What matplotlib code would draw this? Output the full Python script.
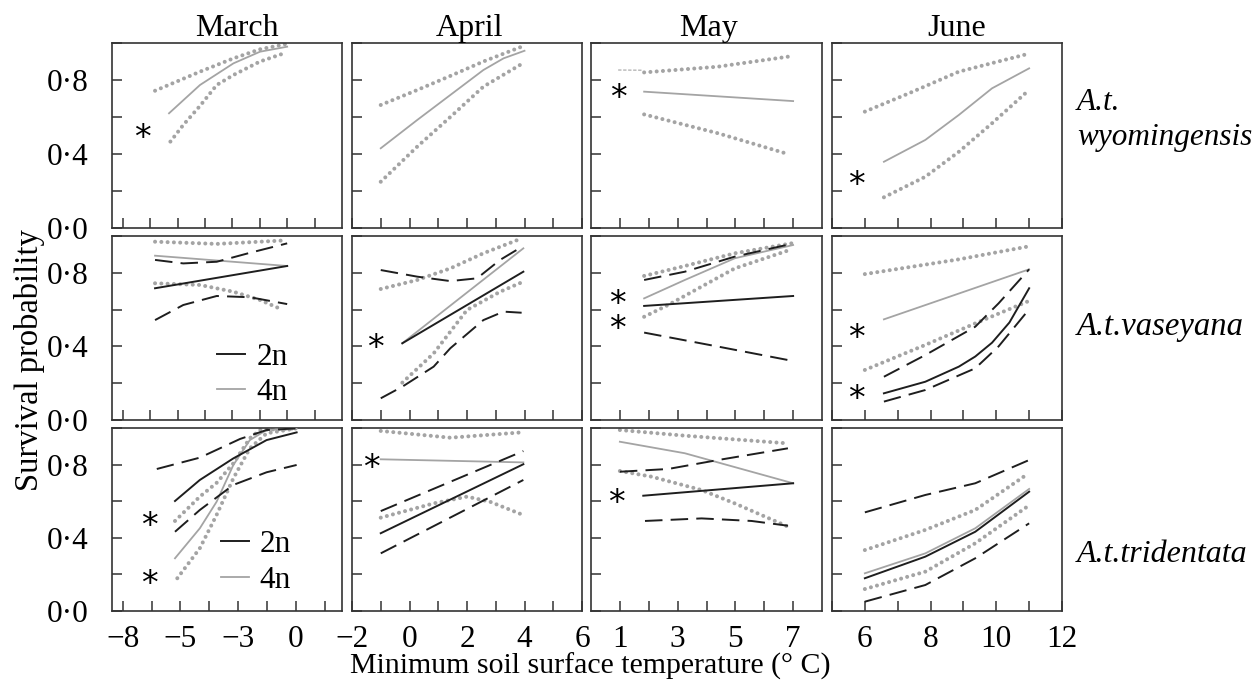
import matplotlib
matplotlib.use("Agg")
import matplotlib.pyplot as plt
from matplotlib.lines import Line2D

plt.rcParams['font.family'] = ['Liberation Serif', 'DejaVu Serif']

# ---------------- data ----------------
months = ["March", "April", "May", "June"]
taxa = ["A.t.\nwyomingensis", "A.t.vaseyana", "A.t.tridentata"]
ytick_vals = [0.0, 0.2, 0.4, 0.6, 0.8, 1.0]
ytick_text = ["0·0", "", "0·4", "", "0·8", ""]

# x ticks per column (March is on a tick-index axis with the printed labels)
mar_ticks = [0, 1, 2, 3, 4, 5, 6, 7]
mar_labels = ["−8", "", "−5", "", "−3", "", "0", ""]
apr_ticks = [-2, -1, 0, 1, 2, 3, 4, 5, 6]
apr_labels = ["−2", "", "0", "", "2", "", "4", "", "6"]
may_ticks = [1, 2, 3, 4, 5, 6, 7]
may_labels = ["1", "", "3", "", "5", "", "7"]
jun_ticks = [5, 6, 7, 8, 9, 10, 11, 12]
jun_labels = ["", "6", "", "8", "", "10", "", "12"]

# ---- row 1: A.t. wyomingensis (4n only) ----
mar_wy_4n = [(1.69, 0.62), (2.82, 0.773), (4.04, 0.89), (5.01, 0.953), (6.0, 0.98)]
mar_wy_4n_hi = [(1.18, 0.742), (2.82, 0.845), (4.04, 0.917), (5.01, 0.966), (5.92, 0.993)]
mar_wy_4n_lo = [(1.74, 0.467), (2.21, 0.557), (2.82, 0.66), (3.43, 0.773), (4.04, 0.827), (5.01, 0.9), (5.8, 0.94)]

apr_wy_4n = [(-1, 0.431), (0.27, 0.584), (1.42, 0.719), (2.57, 0.854), (3.27, 0.917), (4.0, 0.958)]
apr_wy_4n_hi = [(-1, 0.665), (0.27, 0.746), (1.42, 0.822), (2.57, 0.9), (3.9, 0.98)]
apr_wy_4n_lo = [(-1, 0.25), (0.27, 0.44), (1.42, 0.60), (2.57, 0.764), (3.84, 0.881)]

may_wy_4n = [(1.84, 0.737), (7.0, 0.686)]
may_wy_4n_hi = [(1.84, 0.841), (4.4, 0.872), (6.82, 0.926)]
may_wy_4n_lo = [(1.84, 0.614), (4.4, 0.512), (6.82, 0.40)]
may_wy_stub = [(0.94, 0.854), (1.75, 0.853)]

jun_wy_4n = [(6.58, 0.358), (7.84, 0.476), (8.86, 0.611), (9.87, 0.755), (11.0, 0.863)]
jun_wy_4n_hi = [(6.0, 0.629), (7.34, 0.728), (8.86, 0.845), (10.94, 0.94)]
jun_wy_4n_lo = [(6.58, 0.166), (7.84, 0.277), (8.86, 0.412), (9.87, 0.566), (10.94, 0.737)]

# ---- row 2: A.t. vaseyana ----
mar_va_2n = [(1.18, 0.716), (6.0, 0.837)]
mar_va_2n_hi = [(1.18, 0.870), (2.21, 0.851), (3.43, 0.860), (4.65, 0.909), (6.0, 0.960)]
mar_va_2n_lo = [(1.18, 0.543), (2.21, 0.625), (3.43, 0.674), (4.65, 0.667), (6.0, 0.630)]
mar_va_4n = [(1.18, 0.893), (6.0, 0.837)]
mar_va_4n_hi = [(1.18, 0.969), (3.43, 0.957), (5.8, 0.975)]
mar_va_4n_lo = [(1.18, 0.743), (2.82, 0.734), (4.04, 0.697), (5.01, 0.652), (5.8, 0.601)]

apr_va_2n = [(-0.25, 0.417), (3.96, 0.806)]
apr_va_2n_hi = [(-1, 0.815), (0.27, 0.779), (1.42, 0.755), (2.35, 0.770), (3.15, 0.870), (3.96, 0.946)]
apr_va_2n_lo = [(-1, 0.118), (-0.25, 0.181), (0.84, 0.29), (1.42, 0.39), (2.57, 0.543), (3.27, 0.589), (3.9, 0.583)]
apr_va_4n = [(-0.25, 0.417), (3.96, 0.933)]
apr_va_4n_hi = [(-1, 0.712), (0.27, 0.761), (1.42, 0.824), (2.57, 0.906), (3.9, 0.987)]
apr_va_4n_lo = [(-0.25, 0.203), (0.84, 0.362), (2.0, 0.598), (3.15, 0.697), (3.96, 0.752)]

may_va_2n = [(1.84, 0.62), (7.0, 0.674)]
may_va_2n_hi = [(1.84, 0.761), (3.25, 0.806), (4.98, 0.888), (6.94, 0.957)]
may_va_2n_lo = [(1.84, 0.475), (4.4, 0.399), (6.82, 0.326)]
may_va_4n = [(1.84, 0.661), (3.25, 0.761), (4.98, 0.879), (7.0, 0.951)]
may_va_4n_hi = [(1.84, 0.783), (3.25, 0.837), (4.98, 0.906), (6.94, 0.960)]
may_va_4n_lo = [(1.84, 0.561), (2.67, 0.625), (3.83, 0.725), (4.98, 0.824), (6.88, 0.924)]

jun_va_2n = [(6.58, 0.145), (7.84, 0.208), (8.86, 0.29), (9.36, 0.345), (9.87, 0.42), (10.4, 0.53), (11.0, 0.716)]
jun_va_2n_hi = [(6.58, 0.235), (7.84, 0.353), (9.36, 0.507), (10.07, 0.634), (11.0, 0.819)]
jun_va_2n_lo = [(6.58, 0.10), (7.84, 0.163), (9.36, 0.281), (10.07, 0.40), (11.0, 0.602)]
jun_va_4n = [(6.58, 0.547), (11.0, 0.819)]
jun_va_4n_hi = [(6.0, 0.793), (8.86, 0.873), (10.94, 0.942)]
jun_va_4n_lo = [(6.0, 0.272), (7.84, 0.408), (9.36, 0.525), (10.94, 0.643)]

# ---- row 3: A.t. tridentata ----
mar_tr_2n = [(1.81, 0.601), (2.67, 0.716), (3.83, 0.834), (4.98, 0.934), (6.02, 0.976)]
mar_tr_2n_hi = [(1.18, 0.776), (2.67, 0.838), (4.06, 0.94), (4.98, 0.989), (6.02, 0.998)]
mar_tr_2n_lo = [(1.81, 0.433), (2.67, 0.552), (3.83, 0.689), (4.98, 0.758), (6.02, 0.798)]
mar_tr_4n = [(1.81, 0.288), (2.67, 0.452), (3.25, 0.597), (3.83, 0.798), (4.40, 0.934), (4.98, 0.989), (6.02, 0.998)]
mar_tr_4n_hi = [(1.81, 0.492), (2.67, 0.625), (3.25, 0.70), (3.83, 0.807), (4.40, 0.944), (4.75, 0.989), (6.02, 0.998)]
mar_tr_4n_lo = [(1.89, 0.179), (2.67, 0.343), (3.25, 0.525), (3.83, 0.725), (4.40, 0.889), (4.98, 0.971), (6.02, 0.998)]

apr_tr_2n = [(-1, 0.425), (3.96, 0.802)]
apr_tr_2n_hi = [(-1, 0.546), (3.96, 0.874)]
apr_tr_2n_lo = [(-1, 0.315), (3.96, 0.716)]
apr_tr_4n = [(-1, 0.829), (3.96, 0.812)]
apr_tr_4n_hi = [(-1, 0.984), (1.42, 0.947), (3.9, 0.976)]
apr_tr_4n_lo = [(-1, 0.51), (0.84, 0.588), (2.0, 0.625), (2.8, 0.597), (3.9, 0.528)]

may_tr_2n = [(1.81, 0.63), (7.0, 0.698)]
may_tr_2n_hi = [(1.0, 0.761), (2.67, 0.776), (4.4, 0.825), (6.82, 0.889)]
may_tr_2n_lo = [(1.87, 0.492), (3.83, 0.506), (5.56, 0.492), (6.82, 0.466)]
may_tr_4n = [(1.0, 0.925), (3.25, 0.862), (7.0, 0.698)]
may_tr_4n_hi = [(1.0, 0.989), (3.25, 0.958), (6.82, 0.916)]
may_tr_4n_lo = [(1.0, 0.765), (2.1, 0.734), (3.83, 0.661), (4.98, 0.588), (6.82, 0.461)]

jun_tr_2n = [(6.0, 0.179), (7.84, 0.297), (9.36, 0.433), (11.0, 0.652)]
jun_tr_2n_hi = [(6.0, 0.539), (7.84, 0.634), (9.36, 0.698), (11.0, 0.825)]
jun_tr_2n_lo = [(6.0, 0.051), (7.84, 0.142), (9.36, 0.288), (11.0, 0.479)]
jun_tr_4n = [(6.0, 0.206), (7.84, 0.315), (9.36, 0.452), (11.0, 0.667)]
jun_tr_4n_hi = [(6.0, 0.333), (7.84, 0.443), (9.36, 0.552), (10.94, 0.747)]
jun_tr_4n_lo = [(6.0, 0.120), (7.84, 0.215), (9.36, 0.37), (10.94, 0.57)]

# significance asterisks: (axes-fraction x, y, text)
stars = {
    (0, 0): [(0.133, 0.521, "*")],
    (0, 2): [(0.118, 0.737, "*")],
    (0, 3): [(0.107, 0.269, "*")],
    (1, 1): [(0.100, 0.426, "*")],
    (1, 2): [(0.116, 0.530, "*\n*")],
    (1, 3): [(0.107, 0.480, "*"), (0.107, 0.148, "*")],
    (2, 0): [(0.162, 0.503, "*"), (0.162, 0.184, "*")],
    (2, 1): [(0.086, 0.820, "*")],
    (2, 2): [(0.111, 0.625, "*")],
}

# ---------------- styles / layout ----------------
BLACK = "#1e1e1e"
GREY = "#a4a4a4"
styles = {
    "2n": dict(color=BLACK, lw=1.4, ls="-", zorder=4),
    "2n_ci": dict(color=BLACK, lw=1.4, ls=(0, (9, 4.2)), zorder=4),
    "4n": dict(color=GREY, lw=1.3, ls="-", zorder=3),
    "4n_ci": dict(color=GREY, lw=2.9, ls=(0, (0.01, 1.55)), dash_capstyle="round", zorder=2),
    "stub": dict(color=GREY, lw=0.8, ls=(0, (3, 1.5)), zorder=2),
}

panels = {
    (0, 0): [("4n_ci", mar_wy_4n_hi), ("4n_ci", mar_wy_4n_lo), ("4n", mar_wy_4n)],
    (0, 1): [("4n_ci", apr_wy_4n_hi), ("4n_ci", apr_wy_4n_lo), ("4n", apr_wy_4n)],
    (0, 2): [("4n_ci", may_wy_4n_hi), ("4n_ci", may_wy_4n_lo), ("4n", may_wy_4n), ("stub", may_wy_stub)],
    (0, 3): [("4n_ci", jun_wy_4n_hi), ("4n_ci", jun_wy_4n_lo), ("4n", jun_wy_4n)],
    (1, 0): [("4n_ci", mar_va_4n_hi), ("4n_ci", mar_va_4n_lo), ("4n", mar_va_4n),
             ("2n_ci", mar_va_2n_hi), ("2n_ci", mar_va_2n_lo), ("2n", mar_va_2n)],
    (1, 1): [("4n_ci", apr_va_4n_hi), ("4n_ci", apr_va_4n_lo), ("4n", apr_va_4n),
             ("2n_ci", apr_va_2n_hi), ("2n_ci", apr_va_2n_lo), ("2n", apr_va_2n)],
    (1, 2): [("4n_ci", may_va_4n_hi), ("4n_ci", may_va_4n_lo), ("4n", may_va_4n),
             ("2n_ci", may_va_2n_hi), ("2n_ci", may_va_2n_lo), ("2n", may_va_2n)],
    (1, 3): [("4n_ci", jun_va_4n_hi), ("4n_ci", jun_va_4n_lo), ("4n", jun_va_4n),
             ("2n_ci", jun_va_2n_hi), ("2n_ci", jun_va_2n_lo), ("2n", jun_va_2n)],
    (2, 0): [("4n_ci", mar_tr_4n_hi), ("4n_ci", mar_tr_4n_lo), ("4n", mar_tr_4n),
             ("2n_ci", mar_tr_2n_hi), ("2n_ci", mar_tr_2n_lo), ("2n", mar_tr_2n)],
    (2, 1): [("4n_ci", apr_tr_4n_hi), ("4n_ci", apr_tr_4n_lo), ("4n", apr_tr_4n),
             ("2n_ci", apr_tr_2n_hi), ("2n_ci", apr_tr_2n_lo), ("2n", apr_tr_2n)],
    (2, 2): [("4n_ci", may_tr_4n_hi), ("4n_ci", may_tr_4n_lo), ("4n", may_tr_4n),
             ("2n_ci", may_tr_2n_hi), ("2n_ci", may_tr_2n_lo), ("2n", may_tr_2n)],
    (2, 3): [("4n_ci", jun_tr_4n_hi), ("4n_ci", jun_tr_4n_lo), ("4n", jun_tr_4n),
             ("2n_ci", jun_tr_2n_hi), ("2n_ci", jun_tr_2n_lo), ("2n", jun_tr_2n)],
}

W, H = 1252, 685
col_left = [112, 352, 591, 832]
col_width = [230, 230, 231, 230]
row_top = [43, 236, 428]
row_bottom = [228, 420, 611]
title_x = [0.543, 0.513, 0.51, 0.54]

col_ticks = [(mar_ticks, mar_labels), (apr_ticks, apr_labels),
             (may_ticks, may_labels), (jun_ticks, jun_labels)]
col_xlim = [(-0.39, 8.0), (-1.97, 6.0), (0.0, 8.0), (5.02, 12.0)]
row3_mar_xlim = (-0.37, 7.59)

TICK_FS = 22.5
fig = plt.figure(figsize=(W / 100, H / 100), dpi=100)

axes = {}
for r in range(3):
    for c in range(4):
        l = col_left[c] / W
        b = 1 - row_bottom[r] / H
        w = col_width[c] / W
        h = (row_bottom[r] - row_top[r]) / H
        ax = fig.add_axes([l, b, w, h])
        axes[(r, c)] = ax
        for kind, pts in panels[(r, c)]:
            xs = [p[0] for p in pts]
            ys = [p[1] for p in pts]
            ax.plot(xs, ys, **styles[kind])
        xl = col_xlim[c]
        if r == 2 and c == 0:
            xl = row3_mar_xlim
        ax.set_xlim(*xl)
        ax.set_ylim(0, 1.0)
        ticks, labels = col_ticks[c]
        ax.set_xticks(ticks)
        ax.set_xticklabels(labels if r == 2 else [""] * len(ticks))
        ax.set_yticks(ytick_vals)
        ax.set_yticklabels(ytick_text if c == 0 else [""] * len(ytick_vals))
        ax.tick_params(direction="in", length=7.5, width=1.1, color="#333333",
                       labelsize=TICK_FS, top=False, right=False)
        ax.tick_params(axis="y", pad=17)
        ax.tick_params(axis="x", pad=10)
        for sp in ax.spines.values():
            sp.set_linewidth(1.2)
            sp.set_color("#333333")
        if r == 0:
            ax.set_title(months[c], fontsize=23, pad=1, x=title_x[c])
        for (sx, sy, s) in stars.get((r, c), []):
            ax.annotate(s, xy=(sx, sy), xycoords="axes fraction",
                        xytext=(0, -12), textcoords="offset points",
                        ha="center", va="baseline", fontsize=24,
                        family="DejaVu Sans", linespacing=0.70, zorder=6)

# legends in the March panels of rows 2 and 3
handles = [Line2D([], [], **{k: v for k, v in styles["2n"].items() if k != "zorder"}),
           Line2D([], [], **{k: v for k, v in styles["4n"].items() if k != "zorder"})]
for (r, anchor) in [(1, (0.61, 0.245)), (2, (0.625, 0.265))]:
    axes[(r, 0)].legend(handles, ["2n", "4n"], loc="center", bbox_to_anchor=anchor,
                        frameon=False, fontsize=22.5, handlelength=0.9,
                        handletextpad=0.35, labelspacing=0.2, borderpad=0)

# row labels
fig.text(1077 / W, 1 - 120 / H, taxa[0], style="italic", fontsize=22.5,
         ha="left", va="center", linespacing=1.3)
fig.text(1077 / W, 1 - 327 / H, taxa[1], style="italic", fontsize=23.5,
         ha="left", va="center")
fig.text(1077 / W, 1 - 555 / H, taxa[2], style="italic", fontsize=23,
         ha="left", va="center")

fig.text(30 / W, 1 - 360 / H, "Survival probability", rotation=90,
         fontsize=23.5, ha="center", va="center")
fig.text(590 / W, 1 - 666 / H, "Minimum soil surface temperature (° C)",
         fontsize=21.5, ha="center", va="center")

fig.savefig("out.png", dpi=100)
